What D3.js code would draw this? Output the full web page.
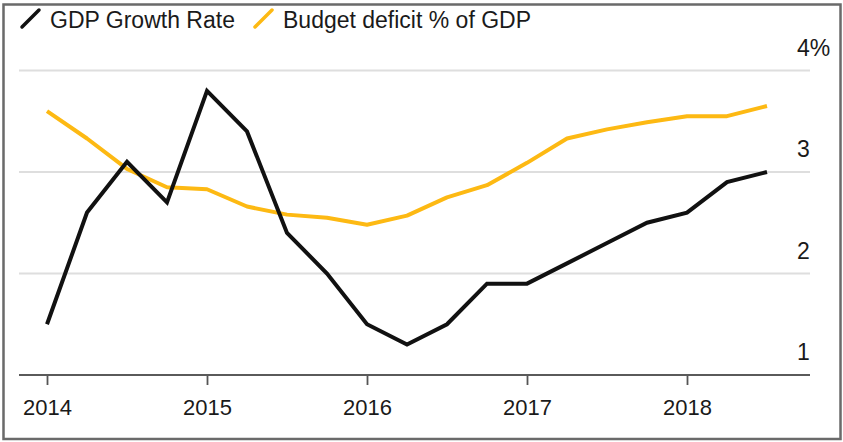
<!DOCTYPE html>
<html>
<head>
<meta charset="utf-8">
<script src="https://cdn.jsdelivr.net/npm/d3@7"></script>
<style>
  html, body { margin: 0; padding: 0; background: #fff; }
  svg { display: block; }
  text { font-family: "Liberation Sans", Arial, Helvetica, sans-serif; fill: #1a1a1a; }
</style>
</head>
<body>
<svg id="chart" width="843" height="442"></svg>
<script>
// Quarterly observations, Q1 2014 through Q3 2018
const quarters = d3.range(19).map(i => 2014 + i * 0.25);
const gdpGrowth = [1.5, 2.6, 3.1, 2.7, 3.8, 3.4, 2.4, 2.0, 1.5, 1.3, 1.5, 1.9, 1.9, 2.1, 2.3, 2.5, 2.6, 2.9, 3.0];
const budgetDeficit = [3.6, 3.33, 3.03, 2.85, 2.83, 2.66, 2.58, 2.55, 2.48, 2.57, 2.75, 2.87, 3.09, 3.33, 3.42, 3.49, 3.55, 3.55, 3.65];
const yearTicks = [2014, 2015, 2016, 2017, 2018];
const valueTicks = [1, 2, 3, 4];
const legendItems = [
  { label: "GDP Growth Rate", color: "#111111" },
  { label: "Budget deficit % of GDP", color: "#fdb913" }
];

const svg = d3.select("#chart");
const W = 843, H = 442;
const plotLeft = 19, plotRight = 810;

const x = d3.scaleLinear().domain([2014, 2018]).range([47, 687]);
const y = d3.scaleLinear().domain([1, 4]).range([375, 70.5]);

// outer frame
svg.append("rect")
  .attr("x", 3.5).attr("y", 4.5)
  .attr("width", W - 6).attr("height", H - 7.5)
  .attr("fill", "none")
  .attr("stroke", "#6a6a6a")
  .attr("stroke-width", 2.5);

// horizontal gridlines
svg.append("g")
  .selectAll("line")
  .data(valueTicks.filter(v => v > 1))
  .join("line")
  .attr("x1", plotLeft).attr("x2", plotRight)
  .attr("y1", d => y(d)).attr("y2", d => y(d))
  .attr("stroke", "#dedede")
  .attr("stroke-width", 2);

// value labels on the right, sitting above each line
svg.append("g")
  .selectAll("text")
  .data(valueTicks)
  .join("text")
  .attr("x", 797)
  .attr("y", d => y(d) - 15)
  .attr("font-size", 23)
  .text(d => d === 4 ? d + "%" : d);

// bottom axis
const xAxis = d3.axisBottom(x)
  .tickValues(yearTicks)
  .tickFormat(d3.format("d"))
  .tickSize(10)
  .tickPadding(14);

const gx = svg.append("g")
  .attr("transform", `translate(0,${y(1)})`)
  .call(xAxis);
gx.select(".domain").remove();
gx.selectAll(".tick line").attr("stroke", "#555").attr("stroke-width", 1.8);
gx.selectAll(".tick text")
  .attr("font-size", 22)
  .attr("fill", "#1a1a1a")
  .style("font-family", "'Liberation Sans', Arial, sans-serif");

svg.append("line")
  .attr("x1", plotLeft).attr("x2", plotRight)
  .attr("y1", y(1)).attr("y2", y(1))
  .attr("stroke", "#5a5a5a")
  .attr("stroke-width", 2.2);

// series lines
const line = d3.line()
  .x((d, i) => x(quarters[i]))
  .y(d => y(d));

svg.append("path")
  .datum(budgetDeficit)
  .attr("d", line)
  .attr("fill", "none")
  .attr("stroke", legendItems[1].color)
  .attr("stroke-width", 4)
  .attr("stroke-linejoin", "round");

svg.append("path")
  .datum(gdpGrowth)
  .attr("d", line)
  .attr("fill", "none")
  .attr("stroke", legendItems[0].color)
  .attr("stroke-width", 4)
  .attr("stroke-linejoin", "miter");

// legend with slanted swatches
const legendPos = [{ sx: 22, tx: 50 }, { sx: 255, tx: 283 }];
const lg = svg.append("g");
legendItems.forEach((item, i) => {
  const p = legendPos[i];
  lg.append("line")
    .attr("x1", p.sx).attr("y1", 27)
    .attr("x2", p.sx + 17).attr("y2", 10)
    .attr("stroke", item.color)
    .attr("stroke-width", 3.5)
    .attr("stroke-linecap", "round");
  lg.append("text")
    .attr("x", p.tx).attr("y", 28)
    .attr("font-size", 23)
    .text(item.label);
});
</script>
</body>
</html>
